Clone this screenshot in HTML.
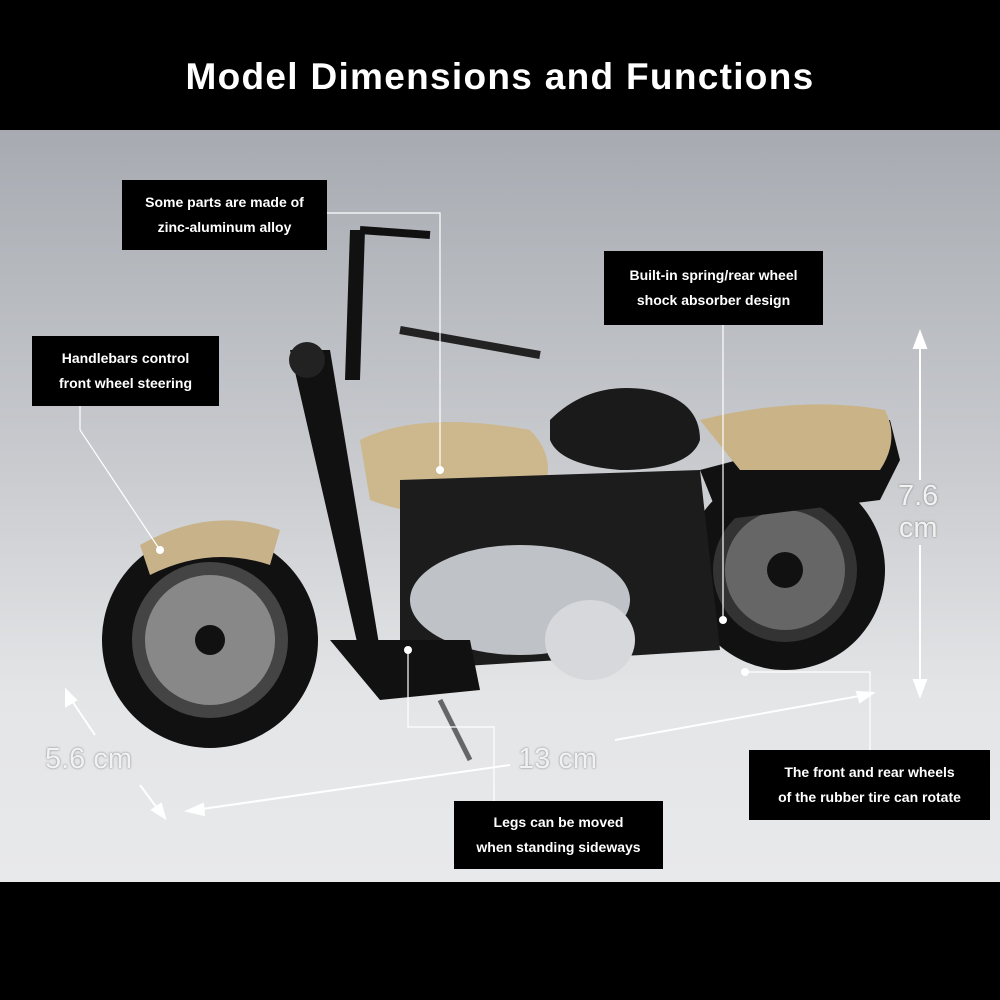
<!DOCTYPE html>
<html><head><meta charset="utf-8"><style>
html,body{margin:0;padding:0;}
body{width:1000px;height:1000px;position:relative;overflow:hidden;background:#000;font-family:"Liberation Sans",sans-serif;}
.title{position:absolute;top:56px;left:0;width:1000px;text-align:center;color:#fff;font-weight:bold;font-size:37px;letter-spacing:1.3px;}
.bg{position:absolute;top:130px;left:0;width:1000px;height:752px;background:linear-gradient(#a7abb1 0%,#c9cbcf 45%,#e4e5e7 75%,#e8e9ea 100%);}
.lab{position:absolute;background:#000;color:#fff;font-weight:bold;font-size:14px;text-align:center;line-height:25px;display:flex;flex-direction:column;justify-content:center;}
.dim{position:absolute;color:#f2f2f2;font-size:29px;text-shadow:0 0 2px #777;}
</style></head><body>
<div class="title">Model Dimensions and Functions</div>
<div class="bg"></div>
<svg style="position:absolute;left:0;top:0" width="1000" height="1000">
 <g stroke="#fff" stroke-width="2" fill="#fff">
  <line x1="920" y1="340" x2="920" y2="480"/><polygon points="920,332 914,348 926,348"/>
  <line x1="920" y1="545" x2="920" y2="688"/><polygon points="920,696 914,680 926,680"/>
  <line x1="615" y1="740" x2="865" y2="695"/><polygon points="873,693 857,692 860,702"/>
  <line x1="195" y1="810" x2="510" y2="765"/><polygon points="187,811 203,804 204,815"/>
  <line x1="70" y1="698" x2="95" y2="735"/><polygon points="66,690 66,706 76,700"/>
  <line x1="140" y1="785" x2="160" y2="812"/><polygon points="165,818 152,810 161,804"/>
 </g>
 <g>
  <circle cx="785" cy="570" r="100" fill="#111"/><circle cx="785" cy="570" r="72" fill="#333"/><circle cx="785" cy="570" r="60" fill="#666"/><circle cx="785" cy="570" r="18" fill="#111"/>
  <circle cx="210" cy="640" r="108" fill="#111"/><circle cx="210" cy="640" r="78" fill="#444"/><circle cx="210" cy="640" r="65" fill="#888"/><circle cx="210" cy="640" r="15" fill="#111"/>
  <path d="M700 470 L890 420 L900 460 L880 500 L720 520 Z" fill="#111"/>
  <path d="M700 420 Q800 395 885 410 Q900 440 880 470 Q800 470 740 470 Z" fill="#c9b387"/>
  <path d="M550 420 Q590 380 650 390 Q700 400 700 440 Q690 470 620 470 Q560 465 550 440Z" fill="#1a1a1a"/>
  <path d="M360 440 Q420 410 530 430 Q560 460 540 500 Q450 530 370 500 Z" fill="#cdb78c"/>
  <path d="M400 480 L700 470 L720 650 L400 670 Z" fill="#1c1c1c"/>
  <ellipse cx="520" cy="600" rx="110" ry="55" fill="#bfc2c6"/><ellipse cx="590" cy="640" rx="45" ry="40" fill="#d6d8db"/>
  <path d="M330 640 L470 640 L480 690 L380 700 Z" fill="#111"/>
  <path d="M140 545 Q210 505 280 530 L270 565 Q210 545 150 575 Z" fill="#c8b289"/>
  <path d="M290 350 L330 350 L380 650 L360 655 Z" fill="#111"/>
  <path d="M350 230 L365 230 L360 380 L345 380 Z" fill="#111"/>
  <path d="M360 230 L430 235" stroke="#111" stroke-width="8"/>
  <path d="M400 330 L540 355" stroke="#222" stroke-width="8"/>
  <circle cx="307" cy="360" r="18" fill="#222"/>
  <line x1="440" y1="700" x2="470" y2="760" stroke="#666" stroke-width="5"/>
 </g>
 <g stroke="#fff" stroke-width="1.2" fill="none">
  <polyline points="327,213 440,213 440,470"/>
  <polyline points="723,325 723,620"/>
  <polyline points="80,406 80,430 160,550"/>
  <polyline points="870,750 870,672 745,672"/>
  <polyline points="494,801 494,727 408,727 408,650"/>
 </g>
 <g fill="#fff"><circle cx="440" cy="470" r="4"/><circle cx="723" cy="620" r="4"/><circle cx="160" cy="550" r="4"/><circle cx="745" cy="672" r="4"/><circle cx="408" cy="650" r="4"/></g>
</svg>
<div class="lab" style="left:122px;top:180px;width:205px;height:70px;">Some parts are made of<br>zinc-aluminum alloy</div>
<div class="lab" style="left:604px;top:251px;width:219px;height:74px;">Built-in spring/rear wheel<br>shock absorber design</div>
<div class="lab" style="left:32px;top:336px;width:187px;height:70px;">Handlebars control<br>front wheel steering</div>
<div class="lab" style="left:749px;top:750px;width:241px;height:70px;">The front and rear wheels<br>of the rubber tire can rotate</div>
<div class="lab" style="left:454px;top:801px;width:209px;height:68px;">Legs can be moved<br>when standing sideways</div>
<div class="dim" style="left:45px;top:743px;">5.6 cm</div>
<div class="dim" style="left:518px;top:743px;">13 cm</div>
<div class="dim" style="left:898px;top:480px;line-height:32px;text-align:center;">7.6<br>cm</div>
</body></html>
